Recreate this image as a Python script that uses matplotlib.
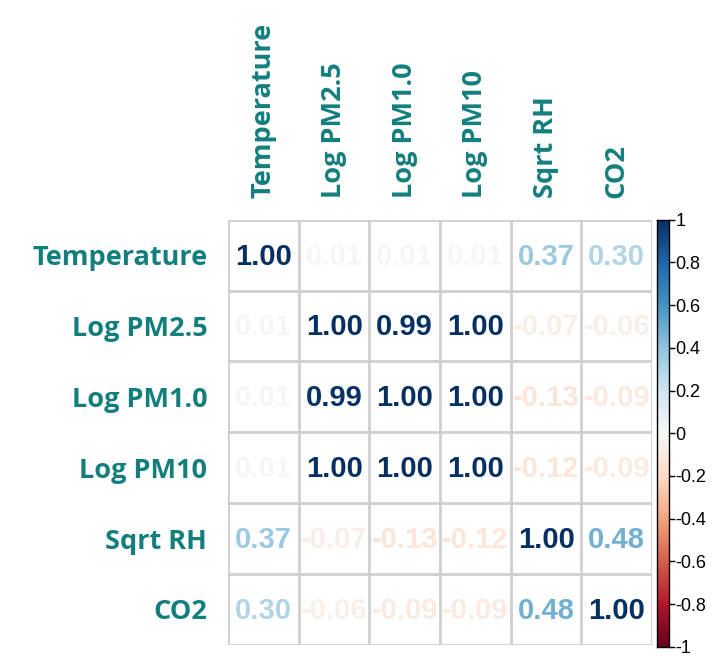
import numpy as np
import matplotlib.pyplot as plt
from matplotlib.colors import Normalize

# correlation matrix of the sensor variables
variables = ["Temperature", "Log PM2.5", "Log PM1.0", "Log PM10", "Sqrt RH", "CO2"]
corr_temperature = [1.00, 0.01, 0.01, 0.01, 0.37, 0.30]
corr_pm25 = [0.01, 1.00, 0.99, 1.00, -0.07, -0.06]
corr_pm10_fine = [0.01, 0.99, 1.00, 1.00, -0.13, -0.09]
corr_pm10 = [0.01, 1.00, 1.00, 1.00, -0.12, -0.09]
corr_rh = [0.37, -0.07, -0.13, -0.12, 1.00, 0.48]
corr_co2 = [0.30, -0.06, -0.09, -0.09, 0.48, 1.00]

cbar_ticks = [-1, -0.8, -0.6, -0.4, -0.2, 0, 0.2, 0.4, 0.6, 0.8, 1]
cbar_labels = ["-1", "-0.8", "-0.6", "-0.4", "-0.2", "0", "0.2", "0.4", "0.6", "0.8", "1"]

corr = np.array([corr_temperature, corr_pm25, corr_pm10_fine, corr_pm10, corr_rh, corr_co2])
n = len(variables)

label_color = "#137f7d"
grid_color = "#cfcfcf"
cmap = plt.get_cmap("RdBu")
norm = Normalize(vmin=-1, vmax=1)

fig = plt.figure(figsize=(7.15, 6.56), dpi=100)
ax = fig.add_axes([0.319, 0.017, 0.593, 0.648])

# cell grid
ax.set_xlim(0, n)
ax.set_ylim(n, 0)
for k in range(n + 1):
    ax.axhline(k, color=grid_color, lw=2)
    ax.axvline(k, color=grid_color, lw=2)

# coloured coefficients
for i in range(n):
    for j in range(n):
        val = corr[i, j]
        ax.text(j + 0.5, i + 0.52, f"{val:.2f}", ha="center", va="center",
                color=cmap(norm(val)), fontsize=21, fontweight="bold",
                family="Liberation Sans")

ax.set_xticks(np.arange(n) + 0.5)
ax.set_yticks(np.arange(n) + 0.5)
ax.xaxis.tick_top()
ax.set_xticklabels(variables, rotation=90, fontsize=19.5, fontweight="bold",
                   color=label_color, family="Open Sans")
ax.set_yticklabels(variables, fontsize=19.5, fontweight="bold",
                   color=label_color, family="Open Sans")
ax.tick_params(axis="y", length=0, pad=15)
ax.tick_params(axis="x", length=0, pad=16)
for s in ax.spines.values():
    s.set_visible(False)

# colour legend
cax = fig.add_axes([0.919, 0.014, 0.016, 0.651])
grad = np.linspace(-1, 1, 256).reshape(-1, 1)
cax.imshow(grad, cmap=cmap, aspect="auto", origin="lower", extent=[0, 1, -1, 1])
cax.set_xticks([])
cax.yaxis.tick_right()
cax.set_yticks(cbar_ticks)
cax.set_yticklabels(cbar_labels, fontsize=13, family="Liberation Sans")
cax.tick_params(axis="y", length=4, width=1, pad=1)
for s in cax.spines.values():
    s.set_linewidth(1)

fig.savefig("out.png", dpi=100)
